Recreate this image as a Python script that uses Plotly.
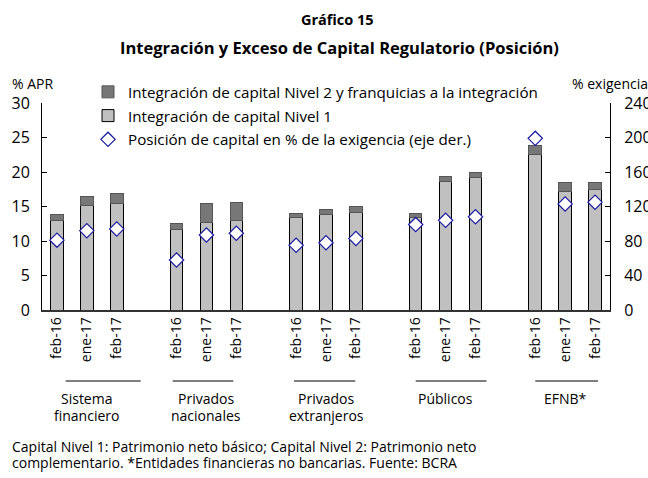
import plotly.graph_objects as go

groups = ["Sistema<br>financiero", "Privados<br>nacionales", "Privados<br>extranjeros", "Públicos", "EFNB*"]
periods = ["feb-16", "ene-17", "feb-17"]

nivel1 = [13.0, 15.2, 15.5, 11.6, 12.7, 13.0, 13.4, 13.8, 14.2, 13.4, 18.6, 19.2, 22.6, 17.2, 17.4]
nivel2 = [0.8, 1.2, 1.4, 1.0, 2.8, 2.6, 0.6, 0.8, 0.8, 0.6, 0.7, 0.7, 1.3, 1.3, 1.1]
posicion = [81, 92, 94, 58, 87, 89, 75, 78, 83, 99, 104, 108, 199, 123, 125]

# x positions: one blank slot between groups
xpos = []
labels = []
for g in range(len(groups)):
    for p in range(len(periods)):
        xpos.append(g * 4 + p)
        labels.append(periods[p])

# layout constants (group underline extents, in x-axis units)
GROUP_LINE_SPAN = [(0.29, 2.8), (3.87, 5.9), (7.93, 9.98), (12.0, 14.37), (16.0, 18.1)]

FONT = "'Open Sans', Lato, sans-serif"
BLACK = "#000000"

fig = go.Figure()
fig.add_trace(go.Bar(
    x=xpos, y=nivel1, name="Integración de capital Nivel 1",
    marker=dict(color="#c0c0c0", line=dict(color="#000000", width=1)),
    width=0.42, legendrank=2, legendgroup="n1",
))
fig.add_trace(go.Bar(
    x=xpos, y=nivel2, name="Integración de capital Nivel 2 y franquicias a la integración",
    marker=dict(color="#777777", line=dict(color="#555555", width=1)),
    width=0.42, legendrank=1, legendgroup="n2",
))
fig.add_trace(go.Scatter(
    x=xpos, y=posicion, yaxis="y2", mode="markers",
    name="Posición de capital en % de la exigencia (eje der.)",
    marker=dict(symbol="diamond", size=11, color="white", line=dict(color="#1a1aa0", width=1.2)),
    legendrank=3, legendgroup="pos",
))

# group separators and labels
Y_LINE = -0.343
LABEL_Y = [-0.428, -0.51]
for g, name in enumerate(groups):
    x0, x1 = GROUP_LINE_SPAN[g]
    fig.add_shape(type="line", xref="x", yref="paper", x0=x0, x1=x1, y0=Y_LINE, y1=Y_LINE,
                  line=dict(color="#555555", width=1.5))
    for i, part in enumerate(name.split("<br>")):
        fig.add_annotation(x=g * 4 + 1, y=LABEL_Y[i], xref="x", yref="paper", text=part,
                           showarrow=False, yanchor="middle", align="center",
                           font=dict(size=14, color=BLACK, family=FONT))

fig.add_annotation(x=0.521, y=1.401, xref="paper", yref="paper", text="<b>Gráfico 15</b>",
                   showarrow=False, yanchor="middle", font=dict(size=14.5, color=BLACK, family=FONT))
fig.add_annotation(x=0.523, y=1.266, xref="paper", yref="paper",
                   text="<b>Integración y Exceso de Capital Regulatorio (Posición)</b>",
                   showarrow=False, yanchor="middle", font=dict(size=16.5, color=BLACK, family=FONT))
fig.add_annotation(x=-0.056, y=1.095, xref="paper", yref="paper", text="% APR",
                   showarrow=False, xanchor="left", yanchor="middle",
                   font=dict(size=14, color=BLACK, family=FONT))
fig.add_annotation(x=0.93, y=1.095, xref="paper", yref="paper", text="% exigencia",
                   showarrow=False, xanchor="left", yanchor="middle",
                   font=dict(size=14, color=BLACK, family=FONT))
foot = ["Capital Nivel 1: Patrimonio neto básico; Capital Nivel 2: Patrimonio neto",
        "complementario. *Entidades financieras no bancarias. Fuente: BCRA"]
for i, line in enumerate(foot):
    fig.add_annotation(x=-0.056, y=[-0.66, -0.735][i], xref="paper", yref="paper", text=line,
                       showarrow=False, xanchor="left", yanchor="middle", align="left",
                       font=dict(size=14, color=BLACK, family=FONT))

fig.update_layout(
    width=648, height=478,
    margin=dict(l=42, r=38, t=103, b=168),
    paper_bgcolor="white", plot_bgcolor="white",
    barmode="stack",
    font=dict(family=FONT, size=14, color=BLACK),
    showlegend=True,
    legend=dict(x=0.081, y=1.133, xanchor="left", yanchor="top", bgcolor="rgba(0,0,0,0)",
                font=dict(size=15.2, family=FONT), traceorder="grouped", tracegroupgap=1,
                itemwidth=30),
    xaxis=dict(range=[-0.5, 18.5], tickvals=xpos, ticktext=labels, tickangle=-90,
               showline=True, linecolor="#333333", linewidth=1.5, ticks="", showgrid=False,
               zeroline=False, automargin=False, tickfont=dict(size=14, family=FONT)),
    yaxis=dict(range=[0, 30], dtick=5, showline=True, linecolor=BLACK, linewidth=1,
               ticks="inside", ticklen=5, tickcolor=BLACK, showgrid=False, zeroline=False,
               automargin=False, ticklabelstandoff=8, tickfont=dict(size=16, family=FONT)),
    yaxis2=dict(range=[0, 240], dtick=40, overlaying="y", side="right", showline=True,
                linecolor=BLACK, linewidth=1, ticks="inside", ticklen=5, tickcolor=BLACK,
                showgrid=False, zeroline=False, automargin=False, ticklabelstandoff=10,
                tickfont=dict(size=16, family=FONT)),
)

fig.write_html("out.html", config={"displayModeBar": False},
               post_script="document.body.style.margin='0px';document.body.style.overflow='hidden';")
